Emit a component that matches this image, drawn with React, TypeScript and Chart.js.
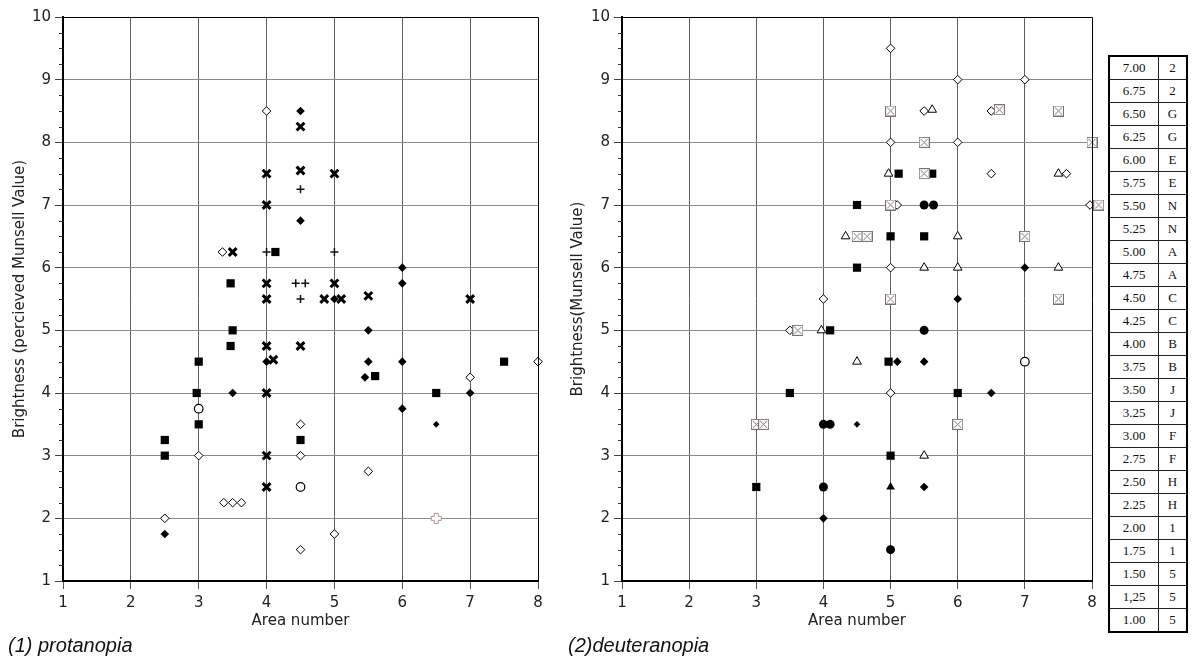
import React, { useEffect, useRef } from "react";
import { Chart, registerables } from "chart.js";

Chart.register(...registerables);

// ---------- (1) protanopia ----------
const protFilledDiamondX = [4.5, 4.5, 5.0, 6.0, 6.0, 5.5, 4.0, 5.5, 6.0, 5.45, 7.0, 3.5, 6.0, 2.5];
const protFilledDiamondY = [8.5, 6.75, 5.5, 6.0, 5.75, 5.0, 4.5, 4.5, 4.5, 4.25, 4.0, 4.0, 3.75, 1.75];
const protSmallDiamondX = [6.5];
const protSmallDiamondY = [3.5];
const protOpenDiamondX = [4.0, 3.35, 3.0, 3.37, 3.5, 3.63, 2.5, 4.5, 4.5, 4.5, 7.0, 8.0, 5.5, 5.0];
const protOpenDiamondY = [8.5, 6.25, 3.0, 2.25, 2.25, 2.25, 2.0, 3.5, 3.0, 1.5, 4.25, 4.5, 2.75, 1.75];
const protCrossX = [4.5, 4.0, 4.5, 4.0, 3.5, 4.0, 4.0, 5.0, 5.0, 4.85, 5.1, 5.5, 7.0, 4.0, 4.5, 4.1, 4.0, 4.0, 4.0];
const protCrossY = [8.25, 7.5, 7.55, 7.0, 6.25, 5.75, 5.5, 7.5, 5.75, 5.5, 5.5, 5.55, 5.5, 4.75, 4.75, 4.53, 4.0, 3.0, 2.5];
const protArrowCrossX = [4.5, 4.0, 4.43, 4.57, 4.5, 5.0];
const protArrowCrossY = [7.25, 6.25, 5.75, 5.75, 5.5, 6.25];
const protSquareX = [4.13, 3.47, 3.5, 3.47, 3.0, 2.97, 3.0, 2.5, 2.5, 4.5, 5.6, 6.5, 7.5];
const protSquareY = [6.25, 5.75, 5.0, 4.75, 4.5, 4.0, 3.5, 3.25, 3.0, 3.25, 4.27, 4.0, 4.5];
const protOpenCircleX = [3.0, 4.5];
const protOpenCircleY = [3.75, 2.5];
const protOpenPlusX = [6.5];
const protOpenPlusY = [2.0];

// ---------- (2) deuteranopia ----------
const deutBoxXX = [5, 6.62, 7.5, 5.5, 8, 5.5, 5, 8.1, 4.5, 4.65, 7, 5, 7.5, 3.62, 3, 3.11, 6];
const deutBoxXY = [8.5, 8.52, 8.5, 8, 8, 7.5, 7, 7, 6.5, 6.5, 6.5, 5.5, 5.5, 5, 3.5, 3.5, 3.5];
const deutOpenDiamondX = [5, 6, 7, 5.5, 6.5, 5, 6, 6.5, 7.62, 5.1, 7.97, 5, 4, 3.5, 5];
const deutOpenDiamondY = [9.5, 9, 9, 8.5, 8.5, 8, 8, 7.5, 7.5, 7, 7, 6, 5.5, 5, 4];
const deutOpenTriangleX = [5.62, 4.97, 7.5, 4.33, 6, 5.5, 6, 7.5, 3.97, 4.5, 5.5];
const deutOpenTriangleY = [8.52, 7.5, 7.5, 6.5, 6.5, 6, 6, 6, 5, 4.5, 3];
const deutSquareX = [5.12, 5.62, 4.5, 5, 5.5, 4.5, 4.1, 4.97, 3.5, 6, 5, 3];
const deutSquareY = [7.5, 7.5, 7, 6.5, 6.5, 6, 5, 4.5, 4, 4, 3, 2.5];
const deutFilledCircleX = [5.5, 5.64, 5.5, 4, 4.1, 4, 5];
const deutFilledCircleY = [7, 7, 5, 3.5, 3.5, 2.5, 1.5];
const deutOpenCircleX = [7];
const deutOpenCircleY = [4.5];
const deutFilledDiamondX = [7, 6, 5.1, 5.5, 6.5, 4, 5.5];
const deutFilledDiamondY = [6, 5.5, 4.5, 4.5, 4, 2, 2.5];
const deutSmallDiamondX = [4.5];
const deutSmallDiamondY = [3.5];
const deutFilledTriangleX = [5];
const deutFilledTriangleY = [2.5];

// ---------- axes / table ----------
const xTickValues = [1, 2, 3, 4, 5, 6, 7, 8];
const yTickValues = [1, 2, 3, 4, 5, 6, 7, 8, 9, 10];
const tableValues = ["7.00", "6.75", "6.50", "6.25", "6.00", "5.75", "5.50", "5.25", "5.00", "4.75", "4.50", "4.25", "4.00", "3.75", "3.50", "3.25", "3.00", "2.75", "2.50", "2.25", "2.00", "1.75", "1.50", "1,25", "1.00"];
const tableCodes = ["2", "2", "G", "G", "E", "E", "N", "N", "A", "A", "C", "C", "B", "B", "J", "J", "F", "F", "H", "H", "1", "1", "5", "5", "5"];

const SANS = '"DejaVu Sans", "Noto Sans", sans-serif';

function pts(xs: number[], ys: number[]) {
  return xs.map((x, i) => ({ x, y: ys[i] }));
}

function makeBoxX(): HTMLCanvasElement {
  const c = document.createElement("canvas");
  c.width = 11;
  c.height = 11;
  const g = c.getContext("2d")!;
  g.fillStyle = "#fff";
  g.fillRect(0, 0, 11, 11);
  g.strokeStyle = "#7a7272";
  g.lineWidth = 1;
  g.strokeRect(0.5, 0.5, 10, 10);
  g.beginPath();
  g.moveTo(2, 2);
  g.lineTo(9, 9);
  g.moveTo(9, 2);
  g.lineTo(2, 9);
  g.stroke();
  return c;
}

function makeOpenPlus(): HTMLCanvasElement {
  const c = document.createElement("canvas");
  c.width = 13;
  c.height = 13;
  const g = c.getContext("2d")!;
  g.fillStyle = "#fff";
  g.strokeStyle = "#b09090";
  g.lineWidth = 1;
  g.beginPath();
  const a = 4.5, b = 8.5, lo = 1.5, hi = 11.5;
  g.moveTo(a, lo); g.lineTo(b, lo); g.lineTo(b, a); g.lineTo(hi, a); g.lineTo(hi, b);
  g.lineTo(b, b); g.lineTo(b, hi); g.lineTo(a, hi); g.lineTo(a, b); g.lineTo(lo, b);
  g.lineTo(lo, a); g.lineTo(a, a); g.closePath();
  g.fill();
  g.stroke();
  return c;
}

const framePlugin = {
  id: "frameAndTitles",
  afterDraw(chart: any, _args: any, opts: any) {
    const { ctx, chartArea } = chart;
    const ys = chart.scales.y;
    ctx.save();
    // top & right frame
    ctx.strokeStyle = "#000";
    ctx.lineWidth = 1;
    ctx.beginPath();
    ctx.moveTo(chartArea.left, chartArea.top + 0.5);
    ctx.lineTo(chartArea.right + 0.5, chartArea.top + 0.5);
    ctx.lineTo(chartArea.right + 0.5, chartArea.bottom);
    ctx.stroke();
    // minor y ticks
    ctx.strokeStyle = "#333";
    ctx.beginPath();
    for (let v = 1; v < 10; v += 0.25) {
      if (Number.isInteger(v)) continue;
      const py = Math.round(ys.getPixelForValue(v)) + 0.5;
      ctx.moveTo(chartArea.left - 4, py);
      ctx.lineTo(chartArea.left, py);
    }
    ctx.stroke();
    // titles
    ctx.fillStyle = "#222";
    ctx.textAlign = "center";
    ctx.textBaseline = "middle";
    ctx.font = `15px ${SANS}`;
    ctx.fillText(opts.xTitle, (chartArea.left + chartArea.right) / 2, opts.xTitleY);
    ctx.translate(chartArea.left + opts.yTitleOffset, (chartArea.top + chartArea.bottom) / 2);
    ctx.rotate(-Math.PI / 2);
    ctx.font = `15px ${SANS}`;
    ctx.fillText(opts.yTitle, 0, 0);
    ctx.restore();
  },
};

function makeOptions(yWidth: number, padRight: number, yTitle: string, yTitleOffset: number): any {
  const gridColor = (c: string, min: number, max: number) => (ctx: any) => {
    const v = ctx.tick ? ctx.tick.value : null;
    return v === min || v === max ? "rgba(0,0,0,0)" : c;
  };
  return {
    responsive: false,
    animation: false,
    devicePixelRatio: 1,
    layout: { padding: { top: 17, right: padRight, bottom: 30, left: 0 } },
    plugins: {
      legend: { display: false },
      tooltip: { enabled: false },
      frameAndTitles: { xTitle: "Area number", xTitleY: 621, yTitle, yTitleOffset },
    },
    scales: {
      x: {
        type: "linear",
        min: 1,
        max: 8,
        afterBuildTicks: (s: any) => { s.ticks = xTickValues.map((v) => ({ value: v })); },
        afterFit: (s: any) => { s.height = 49; },
        ticks: { color: "#222", font: { family: SANS, size: 15 }, padding: 5 },
        grid: { color: gridColor("#5e5e5e", 1, 8), tickColor: "#555", tickLength: 8, lineWidth: 1 },
        border: { color: "#000", width: 2 },
      },
      y: {
        type: "linear",
        min: 1,
        max: 10,
        afterBuildTicks: (s: any) => { s.ticks = yTickValues.map((v) => ({ value: v })); },
        afterFit: (s: any) => { s.width = yWidth; },
        ticks: { color: "#222", font: { family: SANS, size: 15 }, padding: 4 },
        grid: { color: gridColor("#8a8a8a", 1, 10), tickColor: "#444", tickLength: 8, lineWidth: 1 },
        border: { color: "#000", width: 2 },
      },
    },
  };
}

function ds(data: any[], style: any, extra: any) {
  return Object.assign({ data, pointStyle: style, showLine: false, clip: false }, extra);
}

function ScatterCanvas(props: { left: number; width: number; build: () => any }) {
  const ref = useRef<HTMLCanvasElement | null>(null);
  useEffect(() => {
    if (!ref.current) return;
    const chart = new Chart(ref.current, props.build());
    return () => chart.destroy();
  }, []);
  return (
    <canvas
      ref={ref}
      width={props.width}
      height={660}
      style={{ position: "absolute", left: props.left, top: 0, width: props.width, height: 660 }}
    />
  );
}

const black = "#000";

function buildLeft() {
  const openPlus = makeOpenPlus();
  return {
    type: "scatter",
    data: {
      datasets: [
        ds(pts(protOpenPlusX, protOpenPlusY), openPlus, { pointRadius: 6 }),
        ds(pts(protCrossX, protCrossY), "crossRot", { pointRadius: 5.5, borderWidth: 3, borderColor: black, backgroundColor: black }),
        ds(pts(protArrowCrossX, protArrowCrossY), "cross", { pointRadius: 4, borderWidth: 1.5, borderColor: "#111", backgroundColor: "#111" }),
        ds(pts(protSquareX, protSquareY), "rect", { pointRadius: 5.8, borderWidth: 0, backgroundColor: black, borderColor: black }),
        ds(pts(protFilledDiamondX, protFilledDiamondY), "rectRot", { pointRadius: 4.3, borderWidth: 0, backgroundColor: black, borderColor: black }),
        ds(pts(protSmallDiamondX, protSmallDiamondY), "rectRot", { pointRadius: 3.3, borderWidth: 0, backgroundColor: black, borderColor: black }),
        ds(pts(protOpenDiamondX, protOpenDiamondY), "rectRot", { pointRadius: 4.3, borderWidth: 1, backgroundColor: "#fff", borderColor: black }),
        ds(pts(protOpenCircleX, protOpenCircleY), "circle", { pointRadius: 4.3, borderWidth: 1.2, backgroundColor: "#fff", borderColor: black }),
      ],
    },
    options: makeOptions(63, 10, "Brightness (percieved Munsell Value)", -43),
    plugins: [framePlugin],
  };
}

function buildRight() {
  const boxX = makeBoxX();
  return {
    type: "scatter",
    data: {
      datasets: [
        ds(pts(deutBoxXX, deutBoxXY), boxX, { pointRadius: 6 }),
        ds(pts(deutSquareX, deutSquareY), "rect", { pointRadius: 5.8, borderWidth: 0, backgroundColor: black, borderColor: black }),
        ds(pts(deutFilledCircleX, deutFilledCircleY), "circle", { pointRadius: 4.5, borderWidth: 0, backgroundColor: black, borderColor: black }),
        ds(pts(deutFilledDiamondX, deutFilledDiamondY), "rectRot", { pointRadius: 4.3, borderWidth: 0, backgroundColor: black, borderColor: black }),
        ds(pts(deutSmallDiamondX, deutSmallDiamondY), "rectRot", { pointRadius: 3.3, borderWidth: 0, backgroundColor: black, borderColor: black }),
        ds(pts(deutFilledTriangleX, deutFilledTriangleY), "triangle", { pointRadius: 5, borderWidth: 0, backgroundColor: black, borderColor: black }),
        ds(pts(deutOpenTriangleX, deutOpenTriangleY), "triangle", { pointRadius: 5, borderWidth: 1, backgroundColor: "#fff", borderColor: black }),
        ds(pts(deutOpenDiamondX, deutOpenDiamondY), "rectRot", { pointRadius: 4.3, borderWidth: 1, backgroundColor: "#fff", borderColor: black }),
        ds(pts(deutOpenCircleX, deutOpenCircleY), "circle", { pointRadius: 4.3, borderWidth: 1.2, backgroundColor: "#fff", borderColor: black }),
      ],
    },
    options: makeOptions(62, 13, "Brightness(Munsell Value)", -44),
    plugins: [framePlugin],
  };
}

function LegendTable() {
  const cell: React.CSSProperties = {
    border: "1px solid #222",
    height: 22,
    padding: 0,
    textAlign: "center",
    verticalAlign: "middle",
    lineHeight: "22px",
  };
  return (
    <table
      style={{
        position: "absolute",
        left: 1108,
        top: 55,
        borderCollapse: "collapse",
        border: "2px solid #000",
        fontFamily: '"Liberation Serif", "DejaVu Serif", serif',
        fontSize: 13,
        color: "#111",
        background: "#fff",
      }}
    >
      <tbody>
        {tableValues.map((v, i) => (
          <tr key={i}>
            <td style={{ ...cell, width: 48 }}>{v}</td>
            <td style={{ ...cell, width: 27 }}>{tableCodes[i]}</td>
          </tr>
        ))}
      </tbody>
    </table>
  );
}

export default function App() {
  const caption: React.CSSProperties = {
    position: "absolute",
    top: 632,
    fontFamily: '"Liberation Sans", Arial, sans-serif',
    fontStyle: "italic",
    fontSize: 20,
    lineHeight: "26px",
    color: "#111",
    whiteSpace: "nowrap",
  };
  return (
    <div style={{ position: "absolute", left: 0, top: 0, width: 1196, height: 660, background: "#fff", overflow: "hidden" }}>
      <ScatterCanvas left={0} width={548} build={buildLeft} />
      <ScatterCanvas left={560} width={545} build={buildRight} />
      <LegendTable />
      <div style={{ ...caption, left: 8 }}>(1) protanopia</div>
      <div style={{ ...caption, left: 568 }}>(2)deuteranopia</div>
    </div>
  );
}
